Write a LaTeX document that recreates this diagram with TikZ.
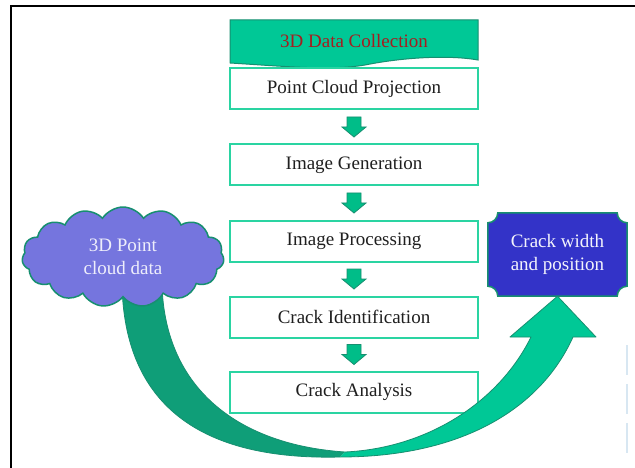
\documentclass[tikz,border=0pt]{standalone}
\usepackage{fontspec}
\setmainfont{Liberation Serif}
\usetikzlibrary{shapes.symbols,calc,backgrounds}
\definecolor{mint}{HTML}{00C896}
\definecolor{mintdark}{HTML}{0F9E78}
\definecolor{boxedge}{HTML}{2AD4A2}
\definecolor{edgeteal}{HTML}{178F70}
\definecolor{cloudfill}{HTML}{7575DE}
\definecolor{navy}{HTML}{3333C8}
\definecolor{darkred}{HTML}{A51D20}
\definecolor{arrowfill}{HTML}{00BD88}
\definecolor{faint}{HTML}{D8E7F2}
\begin{document}
\begin{tikzpicture}[x=1pt,y=-1pt,
  font=\fontsize{19}{23}\selectfont,
  stepbox/.style={draw=boxedge, line width=2pt, fill=white,
    minimum width=248pt, minimum height=41pt, inner sep=0pt, text=black!88},
  smallarrow/.style={fill=arrowfill, draw=edgeteal, line width=0.8pt, line join=miter},
  bigedge/.style={draw=edgeteal, line width=0.8pt, line join=round}]
\useasboundingbox (0,0) rectangle (635,468);
\begin{scope}[on background layer]
  \fill[white] (0,0) rectangle (635,468);
\end{scope}
% frame
\draw[line width=2.2pt] (11,468) -- (11,6) -- (635,6);
\draw[faint, line width=1.2pt, dash pattern=on 30pt off 9pt] (627,345) -- (627,456);

% banner
\draw[fill=mint, draw=edgeteal, line width=1pt] (230,20) -- (478,20) -- (478,60)
  .. controls (450,55) and (405,57) .. (365,65)
  .. controls (330,71) and (280,66) .. (230,63) -- cycle;
\node[text=darkred] (b0) at (354,41) {3D Data Collection};

% steps
\node[stepbox] (b1) at (354,89)  {Point Cloud Projection};
\node[stepbox] (b2) at (354,165) {Image Generation};
\node[stepbox] (b3) at (354,241) {Image Processing};
\node[stepbox] (b4) at (354,317) {Crack Identification};
\node[stepbox] (b5) at (354,392) {Crack Analysis};

\foreach \a/\b in {b1/b2,b2/b3,b3/b4,b4/b5}
  \draw[smallarrow] ($(\a.south)!0.5!(\b.north)$) ++(-7,-10) -- ++(0,10) -- ++(-5,0)
    -- ++(12,10) -- ++(12,-10) -- ++(-5,0) -- ++(0,-10) -- cycle;

% result box
\node[text=white!94!navy, align=center, minimum width=139pt, minimum height=83pt,
  inner sep=0pt] (r) at (557.5,254.5) {Crack width\\and position};
\begin{scope}[on background layer]
\draw[fill=navy, draw=edgeteal, line width=1.5pt]
  ($(r.north west)+(10,0)$) -- ($(r.north east)+(-10,0)$)
  arc[start angle=180,end angle=90,radius=10] -- ($(r.south east)+(0,-10)$)
  arc[start angle=270,end angle=180,radius=10] -- ($(r.south west)+(10,0)$)
  arc[start angle=360,end angle=270,radius=10] -- ($(r.north west)+(0,10)$)
  arc[start angle=90,end angle=0,radius=10] -- cycle;
\end{scope}

% big curved arrow
\coordinate (tip) at (r.south);
\fill[mintdark] (122,285) .. controls (125,420) and (220,460) .. (340,457)
  -- (345,452) .. controls (240,445) and (165,390) .. (162,285) -- cycle;
\fill[mint] (340,457) .. controls (460,457) and (540,410) .. (573,337)
  -- (596,337) -- (tip) -- (510,337) -- (531,337)
  .. controls (500,400) and (430,448) .. (345,452) -- cycle;
\draw[bigedge] (122,285) .. controls (125,420) and (220,460) .. (340,457)
  .. controls (460,457) and (540,410) .. (573,337)
  -- (596,337) -- (tip) -- (510,337) -- (531,337)
  .. controls (500,400) and (430,448) .. (345,452)
  .. controls (240,445) and (165,390) .. (162,285);

% cloud
\node[cloud, cloud puffs=15, cloud puff arc=115, aspect=2, draw=edgeteal,
  fill=cloudfill, line width=1.5pt, minimum width=202pt, minimum height=100pt,
  inner sep=0pt, align=center, text=white!88!cloudfill] (c) at (123,257)
  {3D Point\\cloud data};
\end{tikzpicture}
\end{document}
